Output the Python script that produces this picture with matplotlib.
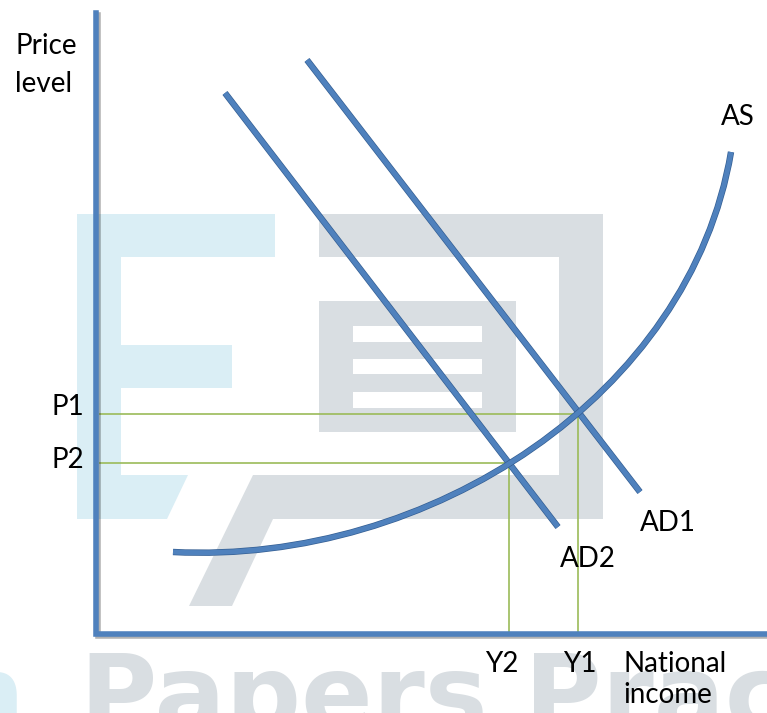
import numpy as np
import matplotlib.pyplot as plt
import matplotlib.patheffects as pe
from matplotlib.patches import Polygon, Rectangle, PathPatch
from matplotlib.path import Path

# curve points (pixel-like units, y grows downward)
ad1_x = [307, 640]
ad1_y = [60, 492]
ad2_x = [225, 558]
ad2_y = [93, 527]
# AS drawn as one cubic Bezier: start, two control points, end
as_x = [173, 430, 690, 731]
as_y = [552, 565, 395, 152]

# equilibrium points
eq_x = [578, 509]   # Y1, Y2
eq_y = [414, 463]   # P1, P2
axis_x0, axis_y0 = 96, 634

blue = '#4F81BD'
edge = '#355f93'
green = '#9BBB59'
wm_blue = '#DAEEF5'
wm_grey = '#D9DEE2'

fig = plt.figure(figsize=(7.67, 7.13), dpi=100)
ax = fig.add_axes([0, 0, 1, 1])
ax.set_xlim(0, 767)
ax.set_ylim(713, 0)
ax.axis('off')

# watermark
f_shape = [(77, 214), (275, 214), (275, 257), (121, 257), (121, 345), (232, 345),
           (232, 388), (121, 388), (121, 475), (188, 475), (167, 519), (77, 519)]
ax.add_patch(Polygon(f_shape, closed=True, fc=wm_blue, ec='none', zorder=0))
p_shape = [(319, 214), (603, 214), (603, 519), (273, 519), (232, 606), (189, 606),
           (253, 475), (559, 475), (559, 257), (319, 257)]
ax.add_patch(Polygon(p_shape, closed=True, fc=wm_grey, ec='none', zorder=0))
ax.add_patch(Rectangle((319, 301), 197, 131, fc=wm_grey, ec='none', zorder=0))
for y0, y1 in [(326, 342), (359, 374), (392, 408)]:
    ax.add_patch(Rectangle((353, y0), 129, y1 - y0, fc='white', ec='none', zorder=0))
ax.text(25, 730, 'Exam', color=wm_blue, fontsize=75, fontweight='bold',
        ha='right', va='baseline', zorder=0)
ax.text(80, 730, 'Papers Practice', color=wm_grey, fontsize=76, fontweight='bold',
        ha='left', va='baseline', zorder=0)

# guide lines to the axes
for x, y in zip(eq_x, eq_y):
    ax.plot([100, x], [y, y], color=green, lw=1.2, zorder=2)
    ax.plot([x, x], [y, axis_y0 - 2], color=green, lw=1.2, zorder=2)

fx = [pe.Stroke(linewidth=4.6, foreground=edge), pe.Normal()]
ax.plot(ad1_x, ad1_y, color=blue, lw=3.6, solid_capstyle='butt', path_effects=fx, zorder=3)
ax.plot(ad2_x, ad2_y, color=blue, lw=3.6, solid_capstyle='butt', path_effects=fx, zorder=3)
as_path = Path(list(zip(as_x, as_y)),
               [Path.MOVETO, Path.CURVE4, Path.CURVE4, Path.CURVE4])
ax.add_patch(PathPatch(as_path, fc='none', ec=blue, lw=3.6, capstyle='butt',
                       path_effects=fx, zorder=3))

# axes
ax_fx = [pe.SimpleLineShadow(offset=(1.5, -1.5), alpha=0.3), pe.Normal()]
ax.plot([axis_x0, axis_x0, 767], [13, axis_y0, axis_y0], color=blue, lw=4,
        solid_joinstyle='miter', path_effects=ax_fx, zorder=4)

fnt = dict(family='Lato', fontsize=20, color='black', va='baseline', ha='left')
ax.text(15, 54, 'Price', **fnt)
ax.text(15, 92, 'level', **fnt)
ax.text(721, 125, 'AS', **fnt)
ax.text(640, 531, 'AD1', **fnt)
ax.text(560, 567, 'AD2', **fnt)
ax.text(52, 415, 'P1', **fnt)
ax.text(52, 468, 'P2', **fnt)
ax.text(485, 672, 'Y2', **fnt)
ax.text(563, 672, 'Y1', **fnt)
ax.text(623, 672, 'National', **fnt)
ax.text(623, 703, 'income', **fnt)

plt.savefig('out.png', dpi=100)
